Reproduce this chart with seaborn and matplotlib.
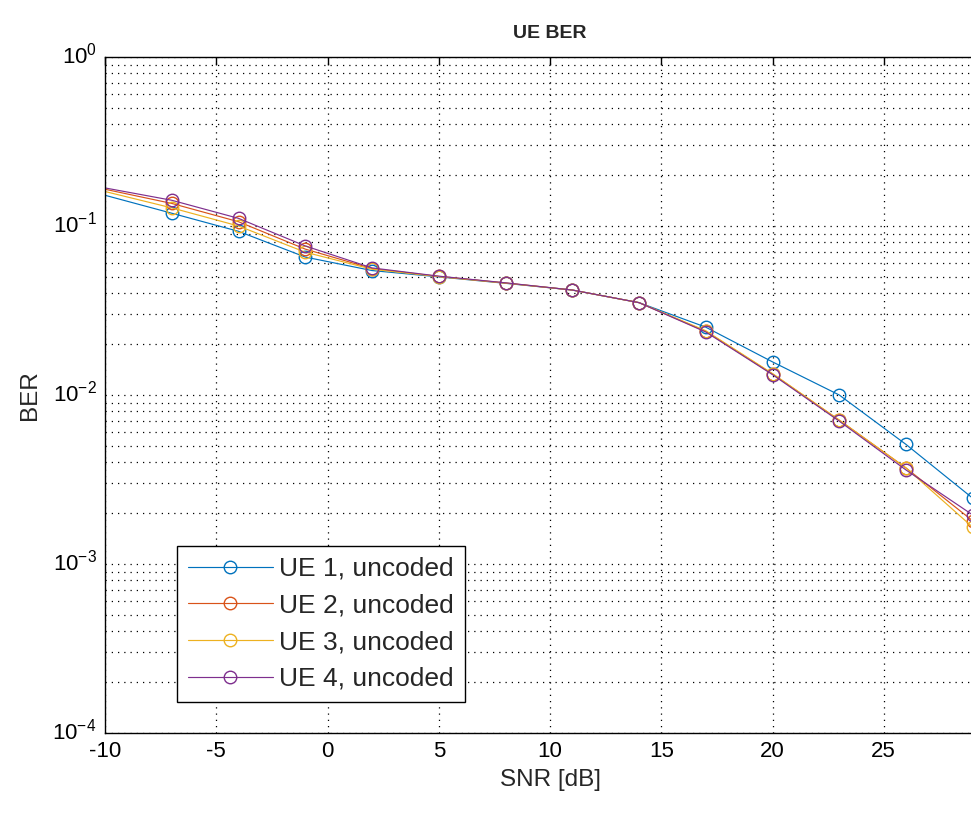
import numpy as np
import pandas as pd
import matplotlib
matplotlib.use("Agg")
import matplotlib.pyplot as plt
import matplotlib.transforms as mtrans
import seaborn as sns
from matplotlib import font_manager
from matplotlib.ticker import LogLocator, LogFormatterMathtext, NullFormatter

snr = [-10, -7, -4, -1, 2, 5, 8, 11, 14, 17, 20, 23, 26, 29]
ue1 = [0.152, 0.119, 0.093, 0.0655, 0.0545, 0.0500, 0.0458, 0.0418, 0.0352, 0.0252, 0.0157, 0.0100, 0.0051, 0.00245]
ue2 = [0.165, 0.136, 0.106, 0.0730, 0.0560, 0.0503, 0.0460, 0.0418, 0.0352, 0.0238, 0.0133, 0.0071, 0.0037, 0.00180]
ue3 = [0.160, 0.128, 0.100, 0.0700, 0.0555, 0.0502, 0.0459, 0.0418, 0.0352, 0.0240, 0.0134, 0.0071, 0.0037, 0.00165]
ue4 = [0.168, 0.142, 0.111, 0.0762, 0.0565, 0.0505, 0.0461, 0.0418, 0.0352, 0.0236, 0.0132, 0.0070, 0.0036, 0.00195]
labels = ["UE 1, uncoded", "UE 2, uncoded", "UE 3, uncoded", "UE 4, uncoded"]
colors = ["#0072BD", "#D95319", "#EDB120", "#7E2F8E"]
x_ticks = [-10, -5, 0, 5, 10, 15, 20, 25]

sns.set_style("white")
names = {f.name for f in font_manager.fontManager.ttflist}
fam = [f for f in ["Liberation Sans Narrow", "Liberation Sans", "DejaVu Sans"] if f in names]
plt.rcParams["font.family"] = fam
plt.rcParams["axes.unicode_minus"] = False

fig = plt.figure(figsize=(9.71, 8.13), dpi=100)
ax = fig.add_axes([105 / 971, 80 / 813, 890 / 971, 676 / 813])

series = [ue1, ue2, ue3, ue4]
for lab, col, vals in zip(labels, colors, series):
    df = pd.DataFrame({"SNR": snr, "BER": vals})
    sns.lineplot(data=df, x="SNR", y="BER", ax=ax, color=col, lw=0.85,
                 marker="o", markersize=9, mfc="none", mec=col, mew=1.0,
                 markevery=list(range(1, len(snr))), label=lab, legend=False)

ax.set_yscale("log")
ax.set_xlim(-10, 30)
ax.set_ylim(1e-4, 1)
ax.set_xticks(x_ticks)
ax.yaxis.set_major_locator(LogLocator(base=10, numticks=10))
ax.yaxis.set_major_formatter(LogFormatterMathtext())
ax.yaxis.set_minor_locator(LogLocator(base=10, subs=np.arange(2, 10), numticks=20))
ax.yaxis.set_minor_formatter(NullFormatter())

grid_style = dict(color="black", linestyle=(0, (1, 4)), linewidth=0.9)
ax.grid(True, which="major", axis="both", **grid_style)
ax.grid(True, which="minor", axis="y", **grid_style)
ax.set_axisbelow(True)

for s in ax.spines.values():
    s.set_color("black")
    s.set_linewidth(1.0)
ax.tick_params(which="major", direction="in", length=6, width=1, top=True, right=True,
               labelsize=16, colors="black")
ax.tick_params(axis="x", which="major", pad=6)
ax.tick_params(axis="y", which="major", pad=6)
ax.tick_params(which="minor", direction="in", length=5, width=1, top=False, right=True)

# shift y tick labels up slightly so the base "10" sits centred on the tick
offset = mtrans.ScaledTranslation(0, 4 / 100, fig.dpi_scale_trans)
for lbl in ax.get_yticklabels():
    lbl.set_transform(lbl.get_transform() + offset)

ax.set_xlabel("SNR [dB]", fontsize=17.5, labelpad=5)
ax.set_ylabel("BER", fontsize=17.5, labelpad=8)
ax.set_title("UE BER", fontsize=14, fontweight="bold", pad=14)

leg = ax.legend(loc="lower left", bbox_to_anchor=(72 / 890, 31 / 676), borderaxespad=0,
                fontsize=19, frameon=True, fancybox=False, edgecolor="black",
                framealpha=1, handlelength=3.2, handletextpad=0.25, labelspacing=0.48,
                borderpad=0.42)
leg.get_frame().set_linewidth(1.0)

fig.savefig("out.png", dpi=100)
